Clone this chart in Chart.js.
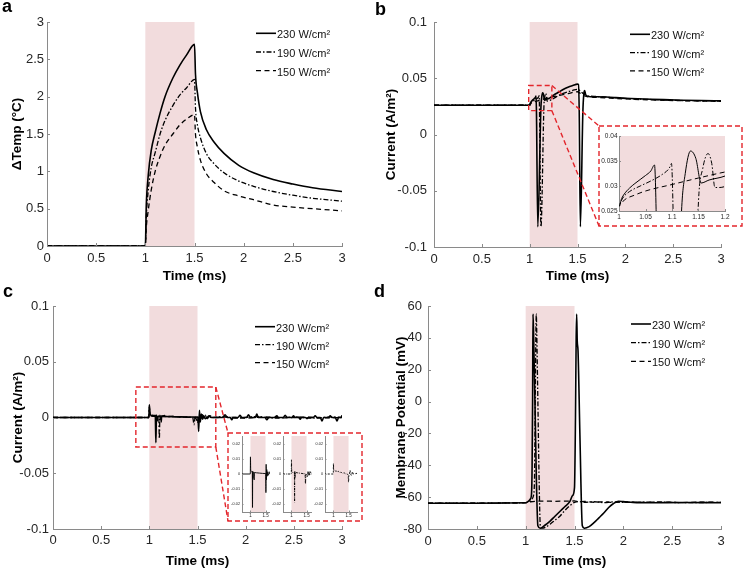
<!DOCTYPE html>
<html>
<head>
<meta charset="utf-8">
<script src="https://cdn.jsdelivr.net/npm/chart.js@4.4.1/dist/chart.umd.min.js"></script>
<style>
  html, body { margin: 0; background: #fff; }
  #fig { position: relative; width: 744px; height: 569px; overflow: hidden; font-family: "Liberation Sans", Arial, sans-serif; }
  #fig canvas { position: absolute; }
  canvas.inset { background: #fff; }
  .tag { position: absolute; font-weight: bold; font-size: 18px; line-height: 18px; color: #000; }
</style>
</head>
<body>
<div id="fig">
  <canvas id="pa" width="372" height="284" style="left:0;top:0"></canvas>
  <canvas id="pb" width="372" height="284" style="left:372px;top:0"></canvas>
  <canvas id="pc" width="372" height="285" style="left:0;top:284px"></canvas>
  <canvas id="pd" width="372" height="285" style="left:372px;top:284px"></canvas>
  <canvas id="ib" class="inset" width="140" height="96" style="left:600px;top:128px"></canvas>
  <canvas id="ic1" class="inset" width="47" height="84" style="left:229px;top:435px"></canvas>
  <canvas id="ic2" class="inset" width="47" height="84" style="left:270px;top:435px"></canvas>
  <canvas id="ic3" class="inset" width="47" height="84" style="left:312px;top:435px"></canvas>
  <div class="tag" style="left:2px;top:-3px">a</div>
  <div class="tag" style="left:375px;top:0px">b</div>
  <div class="tag" style="left:3px;top:282px">c</div>
  <div class="tag" style="left:374px;top:282px">d</div>
</div>
<script>
// ---------- data ----------
const legendLabels = ['230 W/cm²', '190 W/cm²', '150 W/cm²'];
const pulse = [1, 1.5];

const timeTicks = [0, 0.5, 1, 1.5, 2, 2.5, 3];
const tempTicks = [0, 0.5, 1, 1.5, 2, 2.5, 3];
const curTicks = [-0.1, -0.05, 0, 0.05, 0.1];
const vmTicks = [-80, -60, -40, -20, 0, 20, 40, 60];
const zoomTicksX = [1, 1.05, 1.1, 1.15, 1.2];
const zoomTicksY = [0.025, 0.03, 0.035, 0.04];
const miniTicksX = [1, 1.5];
const miniTicksY = [-0.02, -0.01, 0, 0.01, 0.02];

// a: temperature rise
const tempT   = [0, 1, 1.01, 1.03, 1.06, 1.1, 1.15, 1.2, 1.28, 1.35, 1.42, 1.5, 1.51, 1.53, 1.56, 1.62, 1.7, 1.8, 1.95, 2.1, 2.3, 2.5, 2.7, 3];
const temp230 = [0, 0, 0.55, 0.95, 1.28, 1.52, 1.78, 2.0, 2.25, 2.42, 2.56, 2.7, 2.3, 2.05, 1.8, 1.56, 1.39, 1.24, 1.08, 0.98, 0.89, 0.83, 0.78, 0.73];
const temp190 = [0, 0, 0.4, 0.75, 1.05, 1.25, 1.5, 1.68, 1.88, 2.02, 2.12, 2.23, 1.85, 1.62, 1.45, 1.24, 1.1, 0.98, 0.87, 0.8, 0.73, 0.68, 0.64, 0.6];
const temp150 = [0, 0, 0.25, 0.48, 0.75, 1.0, 1.2, 1.35, 1.5, 1.62, 1.7, 1.76, 1.5, 1.32, 1.15, 0.97, 0.85, 0.74, 0.67, 0.62, 0.55, 0.52, 0.5, 0.47];

// b: total current [time, value]
const curB230 = [[0,0.026],[1,0.026],[1.005,0.0275],[1.01,0.0284],[1.02,0.0296],[1.03,0.0305],[1.04,0.0313],[1.05,0.0321],[1.06,0.033],[1.067,0.0342],
  [1.071,0.02],[1.085,-0.082],[1.118,0.025],[1.125,0.0325],[1.135,0.037],[1.145,0.0355],[1.155,0.0306],[1.17,0.0312],[1.2,0.032],[1.25,0.035],
  [1.3,0.0375],[1.35,0.04],[1.4,0.042],[1.45,0.0435],[1.5,0.0448],[1.51,0.0445],[1.518,0.02],[1.53,-0.082],[1.556,0.02],[1.566,0.036],
  [1.575,0.039],[1.585,0.0355],[1.6,0.034],[1.7,0.0335],[1.8,0.0333],[1.9,0.0328],[2,0.0322],[2.2,0.0316],[2.4,0.031],[2.6,0.0305],[2.8,0.0302],[3,0.03]];
const curB190 = [[0,0.026],[1,0.026],[1.005,0.0272],[1.01,0.028],[1.02,0.0289],[1.04,0.03],[1.06,0.031],[1.08,0.0322],[1.095,0.0336],[1.099,0.0345],
  [1.103,0.02],[1.118,-0.082],[1.15,0.027],[1.158,0.0335],[1.168,0.0365],[1.175,0.0345],[1.181,0.0297],[1.19,0.0297],[1.2,0.0299],[1.25,0.032],
  [1.3,0.0345],[1.35,0.0365],[1.4,0.038],[1.45,0.0392],[1.5,0.0402],[1.55,0.037],[1.6,0.0345],[1.7,0.0338],[1.8,0.0332],[2,0.032],
  [2.2,0.0313],[2.4,0.0307],[2.6,0.0302],[2.8,0.03],[3,0.0297]];
const curB150 = [[0,0.026],[1,0.026],[1.01,0.0272],[1.03,0.0282],[1.05,0.029],[1.1,0.0303],[1.15,0.0316],[1.2,0.0328],[1.3,0.0346],[1.4,0.0363],
  [1.5,0.038],[1.55,0.0352],[1.6,0.0336],[1.7,0.033],[1.8,0.0325],[2,0.0316],[2.5,0.0302],[3,0.0295]];

// c: current component [time, value]
const curC230 = [[0,0],[0.995,0],[1,0.0115],[1.008,0.003],[1.03,0.0015],[1.062,0.001],[1.068,-0.0225],[1.074,0.002],[1.082,-0.003],[1.09,0.001],
  [1.118,0.0008],[1.123,-0.004],[1.128,0.001],[1.2,0.0008],[1.3,0.0006],[1.4,0.0004],[1.505,0.0003],[1.512,-0.0125],[1.52,0.0065],[1.528,-0.004],
  [1.54,0.003],[1.552,-0.0015],[1.565,0.0015],[1.58,-0.001],[1.6,0],[1.62,0.0015],[1.64,0],[1.76,0],[1.786,0.0025],[1.81,0],
  [1.84,0],[1.856,-0.002],[1.87,0],[1.92,0],[1.942,0.002],[1.96,0],[2.01,0],[2.029,0.0025],[2.05,0],[2.1,0],
  [2.116,0.003],[2.13,0],[2.2,0],[2.22,-0.002],[2.24,0],[2.3,0],[2.324,0.0015],[2.34,0],[2.39,0],[2.41,0.002],
  [2.43,0],[2.48,0],[2.497,0.0015],[2.51,0],[2.55,0],[2.566,-0.0015],[2.58,0],[2.62,0],[2.636,-0.001],[2.65,0],
  [2.7,0],[2.722,0.0015],[2.74,0],[2.775,0],[2.792,-0.003],[2.81,0],[2.86,0],[2.878,0.0015],[2.895,0],[2.93,0],
  [2.948,-0.003],[2.965,0],[2.99,0],[3,0.002]];
const curC190 = [[0,0],[0.995,0],[1,0.0095],[1.008,0.002],[1.05,0.001],[1.098,0.001],[1.104,-0.019],[1.11,0.002],[1.118,-0.0025],[1.126,0.001],
  [1.2,0.0008],[1.3,0.0005],[1.4,0.0002],[1.45,0],[1.465,-0.0065],[1.475,0],[1.5,0],[1.52,-0.002],[1.54,0.0015],[1.56,-0.001],
  [1.58,0.002],[1.6,-0.001],[1.63,0.0015],[1.66,0],[1.75,0.0008],[1.9,-0.0005],[2.1,0.0008],[2.3,-0.0005],[2.5,0.0005],[2.7,-0.0006],[2.9,0.0005],[3,0]];
const curC150 = [[0,0],[0.995,0],[1,0.007],[1.006,0.003],[1.03,0.0022],[1.06,0.0018],[1.09,0.0022],[1.12,0.0012],[1.16,0.0018],[1.2,0.001],
  [1.25,0.0012],[1.3,0.0005],[1.35,0.0008],[1.4,0.0002],[1.45,0],[1.49,-0.0015],[1.5,-0.0055],[1.51,-0.001],[1.53,0],[1.55,0.0025],
  [1.57,0],[1.6,-0.001],[1.63,0.0015],[1.66,0],[1.8,0.0005],[2,-0.0005],[2.2,0.0005],[2.4,-0.0004],[2.6,0.0004],[2.8,-0.0004],[3,0]];

// d: membrane potential [time, mV]
const vm230 = [[0,-63.8],[1,-63.5],[1.03,-62.5],[1.05,-61],[1.06,-58],[1.066,-40],[1.071,0],[1.075,55],[1.08,45],[1.095,0],
  [1.11,-50],[1.125,-78],[1.15,-79.5],[1.2,-77.5],[1.25,-75],[1.3,-72],[1.35,-69],[1.4,-66],[1.45,-63],[1.48,-59],
  [1.5,-54],[1.51,-10],[1.517,40],[1.522,55],[1.528,38],[1.536,32],[1.555,-20],[1.58,-78],[1.6,-79.5],[1.65,-78.5],
  [1.7,-76],[1.75,-73],[1.8,-70],[1.85,-66.5],[1.9,-64],[1.95,-62.6],[2,-62.8],[2.1,-63.3],[2.3,-63.5],[2.6,-63.4],[3,-63.5]];
const vm190 = [[0,-63.8],[1,-63.5],[1.03,-62.8],[1.06,-61.5],[1.08,-59],[1.09,-50],[1.098,0],[1.105,45],[1.109,55],[1.113,45],
  [1.125,0],[1.138,-50],[1.15,-78],[1.17,-79.5],[1.2,-79],[1.25,-77],[1.3,-74.5],[1.35,-72],[1.4,-68.5],[1.45,-65.5],
  [1.5,-63.3],[1.55,-62.8],[1.6,-63.2],[1.7,-62.9],[1.8,-63.4],[1.9,-63],[2,-63.3],[2.3,-63.1],[2.6,-63.4],[3,-63.3]];
const vm150 = [[0,-63.8],[1,-63.5],[1.05,-62.9],[1.1,-62.6],[1.2,-62.5],[1.3,-62.6],[1.4,-62.5],[1.5,-62.4],[1.55,-63],[1.6,-62.7],
  [1.7,-63.2],[1.8,-62.9],[1.9,-63.3],[2,-63],[2.2,-63.3],[2.4,-63.1],[2.6,-63.4],[2.8,-63.1],[3,-63.3]];

// ---------- styling ----------
const FONT = '"Liberation Sans", Arial, Helvetica, sans-serif';
const AXIS = '#8a8a8a', TXT = '#262626', PINK = '#f2dcdd', RED = '#e3262c';
const lineStyle = [
  {dash: [], width: 1.6},
  {dash: [5, 2, 1.5, 2], width: 1.3},
  {dash: [5, 3.5], width: 1.3},
];
const miniStyle = [
  {dash: [], width: 0.9},
  {dash: [2.5, 1, 0.8, 1], width: 0.9},
  {dash: [2, 1.5], width: 0.9},
];

function fmt(v) { return String(Math.round(v * 1e4) / 1e4); }
function pairs(xs, ys) { return xs.map((x, i) => [x, ys[i]]); }

function series(pts, st) {
  return {
    data: pts.map(p => ({x: p[0], y: p[1]})),
    borderColor: '#000', borderWidth: st.width, borderDash: st.dash,
    borderJoinStyle: 'round', pointRadius: 0, fill: false,
    cubicInterpolationMode: 'monotone'
  };
}

// plugins
const shade = {
  id: 'shade',
  beforeDraw(chart, args, o) {
    if (!o.range) return;
    const {ctx, chartArea: a, scales: {x}} = chart;
    const x1 = Math.max(a.left, x.getPixelForValue(o.range[0]));
    const x2 = Math.min(a.right, x.getPixelForValue(o.range[1]));
    ctx.save();
    ctx.fillStyle = PINK;
    ctx.fillRect(x1, a.top, x2 - x1, a.bottom - a.top);
    ctx.restore();
  }
};

const inTicks = {
  id: 'inTicks',
  afterDraw(chart, args, o) {
    if (!o.len) return;
    const {ctx, chartArea: a, scales: {x, y}} = chart;
    ctx.save();
    ctx.strokeStyle = AXIS; ctx.lineWidth = 1;
    ctx.beginPath();
    x.ticks.forEach(t => {
      const p = Math.round(x.getPixelForValue(t.value)) + 0.5;
      ctx.moveTo(p, a.bottom); ctx.lineTo(p, a.bottom - o.len);
    });
    y.ticks.forEach(t => {
      const p = Math.round(y.getPixelForValue(t.value)) + 0.5;
      ctx.moveTo(a.left, p); ctx.lineTo(a.left + o.len, p);
    });
    ctx.stroke();
    ctx.restore();
  }
};

const keyBox = {
  id: 'keyBox',
  afterDraw(chart, args, o) {
    if (!o.x) return;
    const ctx = chart.ctx;
    ctx.save();
    legendLabels.forEach((lab, i) => {
      const y = o.y + i * o.gap;
      ctx.strokeStyle = '#000';
      ctx.lineWidth = lineStyle[i].width;
      ctx.setLineDash(lineStyle[i].dash);
      ctx.beginPath(); ctx.moveTo(o.x, y); ctx.lineTo(o.x + 20, y); ctx.stroke();
      ctx.setLineDash([]);
      ctx.fillStyle = '#111';
      ctx.font = '11px ' + FONT;
      ctx.textBaseline = 'middle';
      ctx.fillText(lab, o.x + 21, y + 2);
    });
    ctx.restore();
  }
};

const zoomMark = {
  id: 'zoomMark',
  afterDraw(chart, args, o) {
    if (!o.box) return;
    const {ctx, scales: {x, y}} = chart;
    const l = x.getPixelForValue(o.box[0]), r = x.getPixelForValue(o.box[1]);
    const b = y.getPixelForValue(o.box[2]), t = y.getPixelForValue(o.box[3]);
    const [L, T, R, B] = o.target;
    ctx.save();
    ctx.strokeStyle = RED; ctx.lineWidth = 1.4; ctx.setLineDash([5, 3]);
    ctx.strokeRect(l, t, r - l, b - t);
    ctx.strokeRect(L, T, R - L, B - T);
    ctx.beginPath();
    ctx.moveTo(r, t); ctx.lineTo(L, T);
    ctx.moveTo(r, b); ctx.lineTo(L, B);
    ctx.stroke();
    ctx.restore();
  }
};

Chart.register(shade, inTicks, keyBox, zoomMark);

function build(id, g, o) {
  const tickFont = {family: FONT, size: o.tick};
  const ytickFont = {family: FONT, size: o.ytick || o.tick};
  const titleFont = {family: FONT, size: 13.5, weight: 'bold'};
  return new Chart(document.getElementById(id), {
    type: 'line',
    data: {datasets: o.sets},
    options: {
      responsive: false, animation: false, events: [],
      layout: {padding: {left: 0, top: g.top, right: g.W - g.right, bottom: 0}},
      scales: {
        x: {
          type: 'linear', min: o.x[0], max: o.x[1],
          afterBuildTicks: s => { s.ticks = o.xt.map(v => ({value: v})); },
          afterFit: s => { s.height = g.H - g.bottom; s.paddingLeft = 0; s.paddingRight = 0; },
          grid: {display: false, drawTicks: false},
          border: {display: true, color: AXIS, width: 1},
          ticks: {color: TXT, font: tickFont, padding: o.xpad, maxRotation: 0, autoSkip: false, callback: fmt},
          title: o.xtitle ? {display: true, text: o.xtitle, color: '#000', font: titleFont, padding: 0} : {display: false}
        },
        y: {
          type: 'linear', min: o.y[0], max: o.y[1],
          afterBuildTicks: s => { s.ticks = o.yt.map(v => ({value: v})); },
          afterFit: s => { s.width = g.left; s.paddingTop = 0; s.paddingBottom = 0; },
          grid: {display: false, drawTicks: false},
          border: {display: true, color: AXIS, width: 1},
          ticks: {color: TXT, font: ytickFont, padding: o.ypad, autoSkip: false, callback: fmt},
          title: o.ytitle ? {display: true, text: o.ytitle, color: '#000', font: titleFont, padding: {top: o.ytpad, bottom: 0}} : {display: false}
        }
      },
      plugins: Object.assign({legend: {display: false}, tooltip: {enabled: false}}, o.plug)
    }
  });
}

const mainSets = list => list.map((pts, i) => series(pts, lineStyle[i]));

// a
build('pa', {W: 372, H: 284, left: 47, top: 22, right: 342, bottom: 246}, {
  sets: mainSets([pairs(tempT, temp230), pairs(tempT, temp190), pairs(tempT, temp150)]),
  x: [0, 3], xt: timeTicks, y: [0, 3], yt: tempTicks, tick: 13, xpad: 4.5, ypad: 3,
  xtitle: 'Time (ms)', ytitle: 'ΔTemp (°C)', ytpad: 9.4,
  plug: {shade: {range: pulse}, inTicks: {len: 3}, keyBox: {x: 256, y: 33.3, gap: 18.7}}
});

// b
build('pb', {W: 372, H: 284, left: 62, top: 22, right: 349, bottom: 247}, {
  sets: mainSets([curB230, curB190, curB150]),
  x: [0, 3], xt: timeTicks, y: [-0.1, 0.1], yt: curTicks, tick: 13, xpad: 4.5, ypad: 7,
  xtitle: 'Time (ms)', ytitle: 'Current (A/m²)', ytpad: 10.9,
  plug: {shade: {range: pulse}, inTicks: {len: 3}, keyBox: {x: 258, y: 34.3, gap: 18.3},
         zoomMark: {box: [0.99, 1.232, 0.0212, 0.0435], target: [227, 126, 370, 226]}}
});
build('ib', {W: 140, H: 96, left: 19, top: 8, right: 125, bottom: 83}, {
  sets: [curB230, curB190, curB150].map((pts, i) => series(pts, {dash: lineStyle[i].dash, width: 1})),
  x: [1, 1.2], xt: zoomTicksX, y: [0.025, 0.04], yt: zoomTicksY, tick: 6.5, xpad: 2.5, ypad: 1.5,
  plug: {shade: {range: pulse}, inTicks: {len: 2}}
});

// c
build('pc', {W: 372, H: 285, left: 53, top: 22, right: 342, bottom: 245}, {
  sets: mainSets([curC230, curC190, curC150]),
  x: [0, 3], xt: timeTicks, y: [-0.1, 0.1], yt: curTicks, tick: 13, xpad: 4, ypad: 4,
  xtitle: 'Time (ms)', ytitle: 'Current (A/m²)', ytpad: 10.4,
  plug: {shade: {range: pulse}, inTicks: {len: 3}, keyBox: {x: 255, y: 42.7, gap: 18},
         zoomMark: {box: [0.86, 1.69, -0.0265, 0.0273], target: [228, 149, 362, 237]}}
});
[curC230, curC190, curC150].forEach((pts, i) => {
  build('ic' + (i + 1), {W: 47, H: 84, left: 13, top: 1, right: 45, bottom: 77}, {
    sets: [series(pts, miniStyle[i])],
    x: [0.72, 1.78], xt: miniTicksX, y: [-0.0255, 0.0255], yt: miniTicksY, tick: 4.5, ytick: 3.8, xpad: 1, ypad: 2,
    plug: {shade: {range: pulse}, inTicks: {len: 1.5}}
  });
});

// d
build('pd', {W: 372, H: 285, left: 56, top: 22, right: 349, bottom: 245}, {
  sets: mainSets([vm230, vm190, vm150]),
  x: [0, 3], xt: timeTicks, y: [-80, 60], yt: vmTicks, tick: 13, xpad: 4.5, ypad: 6,
  xtitle: 'Time (ms)', ytitle: 'Membrane Potential (mV)', ytpad: 20.9,
  plug: {shade: {range: pulse}, inTicks: {len: 3}, keyBox: {x: 259, y: 40, gap: 18.7}}
});
</script>
</body>
</html>
